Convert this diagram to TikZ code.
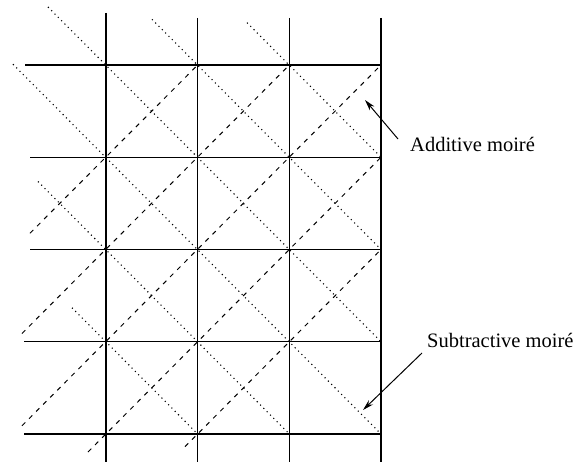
\documentclass[tikz,border=0pt]{standalone}
\usepackage{fontspec}
\setmainfont{Liberation Serif}
\usetikzlibrary{arrows.meta}
\begin{document}
\begin{tikzpicture}[x=1pt,y=-1pt,
  gridline/.style={line width=1.2pt,black},
  dashline/.style={line width=1pt,black,dash pattern=on 4.6pt off 5.4pt},
  dotline/.style={line width=1.1pt,black,dash pattern=on 1.1pt off 3.6pt},
  pointer/.style={line width=1pt,-{Stealth[length=11pt,width=6pt]}},
  lbl/.style={font=\fontsize{20.5}{24}\selectfont,inner sep=0pt,anchor=base west}]
\useasboundingbox (0,0) rectangle (583,465);
% grid corners c<i><j>: column i, row j
\foreach \i in {0,1,2,3}{
  \foreach \j in {0,1,2,3,4}{
    \coordinate (c\i\j) at ({106+91.67*\i},{65+92.25*\j});
  }
}
% horizontal lines
\coordinate (h0) at (25,65);
\coordinate (h1) at (30,157.25);
\coordinate (h2) at (30,249.5);
\coordinate (h3) at (24,341.75);
\coordinate (h4) at (24,434);
\draw[gridline] (h0) -- (c30);
\draw[gridline] (h1) -- (c31);
\draw[gridline] (h2) -- (c32);
\draw[gridline] (h3) -- (c33);
\draw[gridline] (h4) -- (c34);
% vertical lines
\coordinate (v0t) at (106,13);   \coordinate (v0b) at (106,462);
\coordinate (v1t) at (197.67,18);\coordinate (v1b) at (197.67,462);
\coordinate (v2t) at (289.33,18);\coordinate (v2b) at (289.33,462);
\coordinate (v3t) at (381,18);   \coordinate (v3b) at (381,462);
\draw[gridline] (v0t) -- (v0b);
\draw[gridline] (v1t) -- (v1b);
\draw[gridline] (v2t) -- (v2b);
\draw[gridline] (v3t) -- (v3b);
% dashed diagonals (rising to the right)
\coordinate (d1) at (30,233.25);
\coordinate (d2) at (22,333.5);
\coordinate (d3) at (22,425.75);
\coordinate (d4) at (88,452);
\coordinate (d5) at (185,446.7);
\draw[dashline] (d1) -- (c10);
\draw[dashline] (d2) -- (c20);
\draw[dashline] (d3) -- (c30);
\draw[dashline] (d4) -- (c31);
\draw[dashline] (d5) -- (c32);
% dotted diagonals (falling to the right)
\coordinate (p1) at (48,7);
\coordinate (p2) at (152,19.3);
\coordinate (p3) at (247,22.7);
\coordinate (p4) at (13,64.25);
\coordinate (p5) at (38,181.5);
\coordinate (p6) at (72,307.75);
\draw[dotline] (p1) -- (c33);
\draw[dotline] (p2) -- (c32);
\draw[dotline] (p3) -- (c31);
\draw[dotline] (p4) -- (c34);
\draw[dotline] (p5) -- (c24);
\draw[dotline] (p6) -- (c14);
% labels and arrows
\node[lbl] (add) at (410,152) {Additive moiré};
\node[lbl] (sub) at (427,347) {Subtractive moiré};
\coordinate (addstart) at (398,139);
\coordinate (addtip) at (365,100);
\coordinate (substart) at (422,353);
\coordinate (subtip) at (363,410);
\draw[pointer] (addstart) -- (addtip);
\draw[pointer] (substart) -- (subtip);
\end{tikzpicture}
\end{document}
